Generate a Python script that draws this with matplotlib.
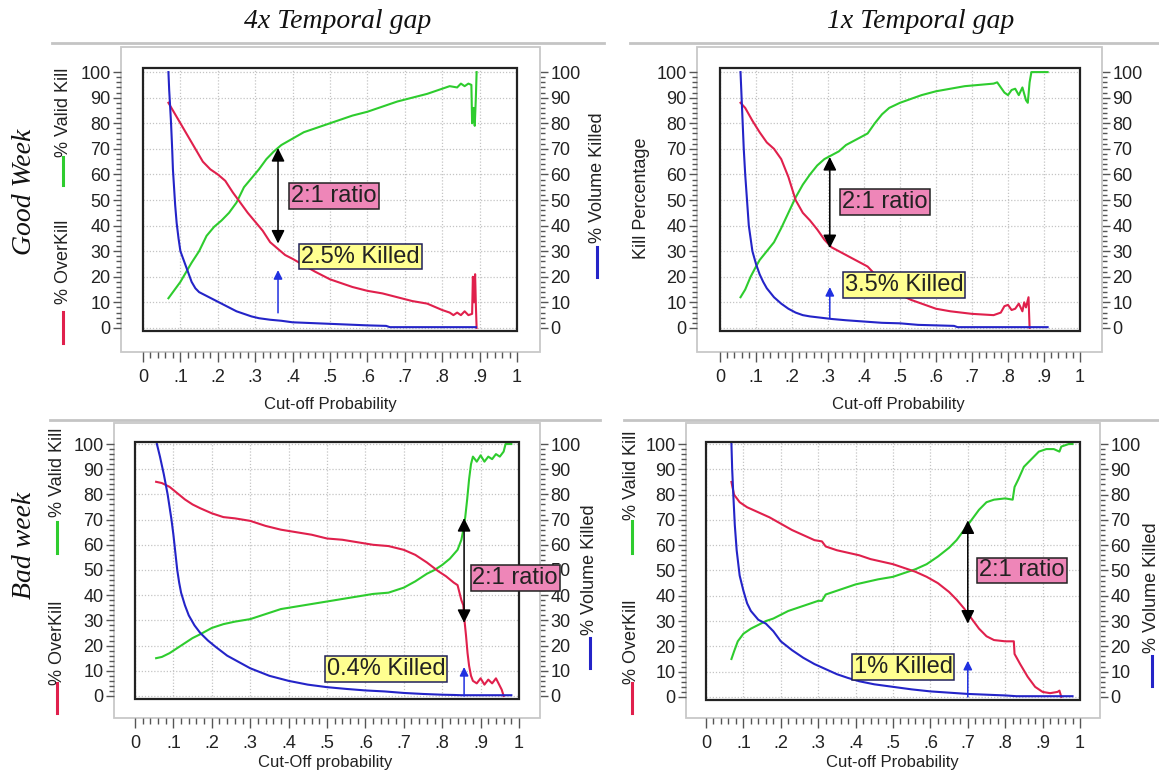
import matplotlib
matplotlib.use("Agg")
import matplotlib.pyplot as plt
from matplotlib.lines import Line2D
from matplotlib.patches import Rectangle
from matplotlib.ticker import MultipleLocator, FuncFormatter

plt.rcParams['font.family'] = ['Liberation Sans', 'DejaVu Sans']

# ---- data (cut-off probability vs %) ----
# top left: good week, 4x temporal gap
tl_valid_x = [0.068, 0.08, 0.1, 0.12, 0.13, 0.15, 0.17, 0.19, 0.21, 0.23, 0.25, 0.27, 0.29, 0.31, 0.33,
              0.35, 0.37, 0.4, 0.43, 0.46, 0.5, 0.53, 0.56, 0.6, 0.64, 0.68, 0.72, 0.76, 0.8, 0.82,
              0.84, 0.85, 0.86, 0.87, 0.878, 0.88, 0.884, 0.887, 0.89, 0.892]
tl_valid_y = [11.6, 14, 18, 23, 25.5, 30, 36, 39.5, 42, 45, 49, 55, 58.5, 62, 66,
              69, 71.5, 74, 76.5, 78, 80, 81.5, 83, 84.5, 86.5, 88.5, 90, 91.5, 93.5, 94.5,
              94, 95.5, 94.5, 95.5, 95, 80, 86, 79, 90, 100]
tl_over_x = [0.068, 0.08, 0.1, 0.12, 0.14, 0.16, 0.18, 0.2, 0.22, 0.24, 0.26, 0.28, 0.3, 0.32, 0.34,
             0.36, 0.38, 0.4, 0.43, 0.46, 0.5, 0.53, 0.56, 0.6, 0.64, 0.68, 0.72, 0.76, 0.8, 0.82,
             0.83, 0.84, 0.85, 0.86, 0.87, 0.88, 0.882, 0.885, 0.888, 0.89, 0.892]
tl_over_y = [88, 85, 80, 75, 70, 65, 62, 60, 57.5, 53, 49, 45, 41.5, 38, 33.5,
             31, 28.5, 27, 24.5, 22, 19, 17.5, 16, 14.5, 13.5, 12, 10.5, 9.5, 7, 6,
             5, 6, 5, 6.5, 5, 5.5, 20, 10, 21, 9, 0]
tl_vol_x = [0.068, 0.07, 0.072, 0.075, 0.078, 0.08, 0.083, 0.086, 0.09, 0.095, 0.1, 0.105, 0.11, 0.12,
            0.13, 0.14, 0.15, 0.17, 0.19, 0.21, 0.23, 0.25, 0.27, 0.29, 0.31, 0.34, 0.37, 0.4, 0.45,
            0.5, 0.55, 0.6, 0.65, 0.66, 0.8, 0.89]
tl_vol_y = [100, 93, 88, 80, 70, 62, 55, 48, 41, 35, 30, 28, 26, 22,
            18, 15.5, 14, 12.5, 11, 9.5, 8, 6.5, 5.5, 4.5, 3.8, 3.2, 2.8, 2.2, 1.9,
            1.6, 1.3, 1.0, 0.8, 0.3, 0.3, 0.3]

# top right: good week, 1x temporal gap
tr_valid_x = [0.057, 0.07, 0.085, 0.1, 0.11, 0.13, 0.15, 0.17, 0.19, 0.21, 0.23, 0.25, 0.27, 0.29, 0.31,
              0.33, 0.35, 0.37, 0.39, 0.41, 0.43, 0.45, 0.47, 0.5, 0.53, 0.56, 0.6, 0.64, 0.68, 0.72,
              0.76, 0.77, 0.79, 0.8, 0.81, 0.82, 0.83, 0.84, 0.85, 0.855, 0.86, 0.865, 0.91]
tr_valid_y = [12, 15, 20, 24, 26.5, 30, 33.5, 39, 45, 51, 56, 60, 63.5, 66, 67.5,
              69, 71.5, 73, 74.5, 76, 80, 83.5, 86, 88, 89.5, 91, 92.5, 93.5, 94.5, 95,
              95.5, 96, 92, 91, 93, 93.5, 91, 94, 89, 88, 96, 100, 100]
tr_over_x = [0.057, 0.07, 0.09, 0.11, 0.13, 0.15, 0.17, 0.19, 0.21, 0.23, 0.25, 0.27, 0.29, 0.31, 0.33,
             0.35, 0.37, 0.39, 0.41, 0.43, 0.45, 0.5, 0.53, 0.56, 0.6, 0.64, 0.7, 0.76, 0.78, 0.79,
             0.8, 0.81, 0.82, 0.83, 0.84, 0.845, 0.85, 0.857, 0.86]
tr_over_y = [88, 86, 81, 76.5, 72.5, 70, 66, 59, 50, 45, 42, 38.5, 34.5, 31.5, 30,
             28.5, 27, 25.5, 24, 21, 18, 13, 11, 9.5, 7.5, 6.5, 5.5, 5, 6, 8.5,
             9, 7, 7.5, 9.5, 6.5, 10, 8, 12, 0]
tr_vol_x = [0.057, 0.06, 0.063, 0.066, 0.07, 0.075, 0.08, 0.09, 0.1, 0.11, 0.12, 0.13, 0.15, 0.17,
            0.19, 0.21, 0.23, 0.25, 0.28, 0.31, 0.35, 0.4, 0.45, 0.5, 0.55, 0.6, 0.65, 0.66, 0.8, 0.91]
tr_vol_y = [100, 90, 80, 70, 60, 50, 40, 30, 25, 21, 18, 15.5, 12, 9.5,
            7.5, 6, 5, 4.5, 4, 3.5, 3, 2.5, 2, 1.8, 1.2, 1.0, 0.8, 0.3, 0.3, 0.3]

# bottom left: bad week, 4x temporal gap
bl_valid_x = [0.055, 0.07, 0.09, 0.11, 0.13, 0.15, 0.17, 0.2, 0.23, 0.26, 0.3, 0.34, 0.38, 0.42, 0.46,
              0.5, 0.54, 0.58, 0.62, 0.66, 0.7, 0.73, 0.76, 0.78, 0.8, 0.82, 0.84, 0.85, 0.855, 0.86,
              0.865, 0.87, 0.875, 0.88, 0.89, 0.9, 0.91, 0.92, 0.93, 0.94, 0.95, 0.96, 0.965, 0.98]
bl_valid_y = [15, 15.5, 17, 19, 21, 23, 24.5, 27, 28.5, 29.5, 30.5, 32.5, 34.5, 35.5, 36.5,
              37.5, 38.5, 39.5, 40.5, 41, 43, 45.5, 48.5, 50, 52, 54.5, 58, 62, 66, 71,
              78, 86, 92, 95, 93, 95.5, 93, 95, 94, 96, 95, 97, 100, 100]
bl_over_x = [0.055, 0.07, 0.09, 0.11, 0.13, 0.15, 0.17, 0.2, 0.23, 0.26, 0.3, 0.34, 0.38, 0.42, 0.46,
             0.5, 0.54, 0.58, 0.62, 0.66, 0.7, 0.73, 0.76, 0.79, 0.81, 0.83, 0.84, 0.845, 0.85, 0.855,
             0.858, 0.862, 0.866, 0.87, 0.875, 0.88, 0.89, 0.9, 0.91, 0.92, 0.93, 0.94, 0.95, 0.955, 0.96]
bl_over_y = [85, 84.5, 83, 80.5, 78, 76, 74.5, 72.5, 71, 70.5, 69.5, 67.5, 66, 65, 64,
             62.5, 62, 61, 60, 59.5, 58, 56, 53, 49.5, 47.5, 45, 44, 41, 38, 36,
             30, 24, 17, 12, 8, 6, 5, 7, 4.5, 6.5, 5, 7, 4, 2.5, 0]
bl_vol_x = [0.057, 0.065, 0.075, 0.085, 0.095, 0.1, 0.105, 0.11, 0.115, 0.12, 0.13, 0.14, 0.155, 0.17,
            0.19, 0.21, 0.24, 0.27, 0.3, 0.35, 0.4, 0.45, 0.5, 0.55, 0.6, 0.65, 0.7, 0.75, 0.8,
            0.83, 0.85, 0.98]
bl_vol_y = [100, 95, 88, 80, 70, 64, 57, 50, 45, 41, 36, 32, 28, 25,
            22, 19.5, 16, 13.5, 11, 8, 6, 4.5, 3.5, 2.8, 2.2, 1.8, 1.2, 0.8, 0.5,
            0.4, 0.3, 0.3]

# bottom right: bad week, 1x temporal gap
br_valid_x = [0.068, 0.075, 0.085, 0.1, 0.12, 0.14, 0.16, 0.18, 0.2, 0.22, 0.25, 0.28, 0.3, 0.31, 0.32,
              0.35, 0.38, 0.4, 0.43, 0.46, 0.5, 0.53, 0.56, 0.59, 0.62, 0.65, 0.67, 0.69, 0.71, 0.73,
              0.75, 0.77, 0.8, 0.82, 0.825, 0.835, 0.85, 0.87, 0.89, 0.91, 0.93, 0.945, 0.95, 0.97, 0.98]
br_valid_y = [15, 18, 22, 25, 27, 28.5, 30, 31, 32.5, 34, 35.5, 37, 38, 38, 40.5,
              42, 43.5, 44.5, 45.5, 46.5, 47.5, 49, 50.5, 52.5, 55.5, 59, 62, 66, 70, 74,
              77, 78, 78.5, 78, 83, 86, 91, 94, 97, 98, 98, 97, 99, 100, 100]
br_over_x = [0.068, 0.075, 0.09, 0.11, 0.14, 0.17, 0.2, 0.23, 0.26, 0.29, 0.31, 0.32, 0.35, 0.38, 0.41,
             0.44, 0.47, 0.5, 0.53, 0.56, 0.59, 0.62, 0.65, 0.67, 0.69, 0.71, 0.73, 0.75, 0.77, 0.8,
             0.823, 0.825, 0.84, 0.86, 0.88, 0.9, 0.92, 0.94, 0.945, 0.95]
br_over_y = [85, 80, 77, 75, 73, 71, 68.5, 66, 64, 62, 61.5, 59.5, 58, 57, 56,
             54.5, 53.5, 52.5, 51, 49.5, 47.5, 45, 41.5, 38.5, 35, 31, 27, 24, 22.5, 22,
             22, 17, 13, 8, 4, 2, 1.5, 2, 2.5, 0]
br_vol_x = [0.068, 0.07, 0.073, 0.077, 0.082, 0.09, 0.1, 0.11, 0.12, 0.14, 0.16, 0.18, 0.2, 0.23,
            0.26, 0.29, 0.32, 0.35, 0.38, 0.41, 0.45, 0.5, 0.55, 0.6, 0.65, 0.7, 0.75, 0.8, 0.83, 0.98]
br_vol_y = [100, 90, 80, 68, 58, 48, 42, 37, 34, 30.5, 29, 26, 22, 18.5,
            15.5, 13, 11, 9, 7.5, 6.2, 5, 4, 3, 2.2, 1.7, 1.2, 0.9, 0.6, 0.3, 0.3]

# annotations: arrow x, ratio arrow span, label positions
tl_note = dict(ax_x=0.361, ratio=(33, 70.3), ratio_xy=(0.511, 51.6), vol=(5.9, 22.6),
               killed='2.5% Killed', killed_xy=(0.582, 27.9))
tr_note = dict(ax_x=0.305, ratio=(31.2, 66.8), ratio_xy=(0.458, 49.2), vol=(3.9, 16),
               killed='3.5% Killed', killed_xy=(0.511, 16.8))
bl_note = dict(ax_x=0.857, ratio=(29, 70.6), ratio_xy=(0.99, 46.8), vol=(0, 11.5),
               killed='0.4% Killed', killed_xy=(0.654, 10.7))
br_note = dict(ax_x=0.70, ratio=(29, 69.8), ratio_xy=(0.845, 50), vol=(0, 14.3),
               killed='1% Killed', killed_xy=(0.527, 11.9))

GREEN = '#2ecc2e'
RED = '#e0204c'
BLUE = '#2424c8'
FRAME = '#c8c8c8'

W, H = 1159, 774


def fx(px):
    return px / W


def fy(py):
    return 1 - py / H


fig = plt.figure(figsize=(W / 100, H / 100), dpi=100)
fig.patch.set_facecolor('white')


def xfmt(v, pos):
    if abs(v) < 1e-6:
        return '0'
    if abs(v - 1) < 1e-6:
        return '1'
    return ('%.1f' % v)[1:]


def panel(box, frame, ylim, valid, over, vol, note):
    l, t, r, b = box
    fl, ft, fr, fb = frame
    # light grey outer frame
    fig.add_artist(Rectangle((fx(fl), fy(fb)), (fr - fl) / W, (fb - ft) / H,
                             transform=fig.transFigure, fill=False, ec=FRAME, lw=1.3))
    ax = fig.add_axes([fx(l), fy(b), (r - l) / W, (b - t) / H])
    ax.set_xlim(0, 1)
    ax.set_ylim(*ylim)
    ax.set_axisbelow(True)
    ax.grid(True, which='major', color='#c4c4c4', linestyle=(0, (1, 1.5)), linewidth=0.9)

    ax.plot(valid[0], valid[1], color=GREEN, lw=1.5, zorder=3)
    ax.plot(over[0], over[1], color=RED, lw=1.5, zorder=3)
    ax.plot(vol[0], vol[1], color=BLUE, lw=1.5, zorder=3)

    for s in ax.spines.values():
        s.set_visible(False)
    ax.spines['left'].set_position(('outward', (l - fl) * 0.72))
    ax.spines['bottom'].set_position(('outward', (fb - b) * 0.72))
    ax.add_patch(Rectangle((0, 0), 1, 1, transform=ax.transAxes, fill=False,
                           ec='#222222', lw=1.6, clip_on=False, zorder=6))

    ax.xaxis.set_major_locator(MultipleLocator(0.1))
    ax.xaxis.set_minor_locator(MultipleLocator(0.02))
    ax.xaxis.set_major_formatter(FuncFormatter(xfmt))
    ax.yaxis.set_major_locator(MultipleLocator(10))
    ax.yaxis.set_minor_locator(MultipleLocator(2))
    ax.tick_params(axis='x', which='major', length=7, width=1, color='#555555',
                   labelsize=13, pad=5, labelcolor='#222222')
    ax.tick_params(axis='x', which='minor', length=4, width=1, color='#555555')
    ax.tick_params(axis='y', which='major', length=6, width=1, color='#555555',
                   labelsize=13, pad=1.5, labelcolor='#222222')
    ax.tick_params(axis='y', which='minor', length=3.5, width=1, color='#555555')

    ax2 = ax.twinx()
    ax2.set_ylim(*ylim)
    for s in ax2.spines.values():
        s.set_visible(False)
    ax2.spines['right'].set_position(('outward', (fr - r) * 0.72))
    ax2.yaxis.set_major_locator(MultipleLocator(10))
    ax2.yaxis.set_minor_locator(MultipleLocator(2))
    ax2.tick_params(axis='y', which='major', length=6, width=1, color='#555555',
                    labelsize=13, pad=1.5, labelcolor='#222222')
    ax2.tick_params(axis='y', which='minor', length=3.5, width=1, color='#555555')
    # keep the plot (and its label boxes) above the right-hand scale
    ax.set_zorder(ax2.get_zorder() + 1)
    ax.patch.set_visible(False)

    # annotations
    x0 = note['ax_x']
    ax.annotate('', xy=(x0, note['ratio'][1]), xytext=(x0, note['ratio'][0]),
                arrowprops=dict(arrowstyle='<|-|>', color='black', lw=1.1,
                                mutation_scale=20, shrinkA=0, shrinkB=0), zorder=7)
    ax.annotate('', xy=(x0, note['vol'][1]), xytext=(x0, note['vol'][0]),
                arrowprops=dict(arrowstyle='-|>', color='#2030e0', lw=1.1,
                                mutation_scale=13, shrinkA=0, shrinkB=0), zorder=7)
    ax.text(note['ratio_xy'][0], note['ratio_xy'][1], '2:1 ratio', fontsize=17,
            ha='center', va='center', color='#222222', zorder=8, clip_on=False,
            bbox=dict(boxstyle='square,pad=0.08', fc='#ee86b8', ec='#222222', lw=1.1))
    ax.text(note['killed_xy'][0], note['killed_xy'][1], note['killed'], fontsize=17,
            ha='center', va='center', color='#222222', zorder=8,
            bbox=dict(boxstyle='square,pad=0.08', fc='#ffff90', ec='#20205a', lw=1.1))
    return ax


panel((143, 68, 517, 331), (121, 47, 540, 352), (-1.2, 101.6),
      (tl_valid_x, tl_valid_y), (tl_over_x, tl_over_y), (tl_vol_x, tl_vol_y), tl_note)
panel((720, 68, 1080, 331), (697, 47, 1102, 352), (-1.2, 101.6),
      (tr_valid_x, tr_valid_y), (tr_over_x, tr_over_y), (tr_vol_x, tr_vol_y), tr_note)
panel((135, 442, 519, 699), (114, 423, 540, 718), (-1.2, 100.8),
      (bl_valid_x, bl_valid_y), (bl_over_x, bl_over_y), (bl_vol_x, bl_vol_y), bl_note)
panel((706, 442, 1080, 700), (686, 423, 1100, 718), (-1.2, 100.8),
      (br_valid_x, br_valid_y), (br_over_x, br_over_y), (br_vol_x, br_vol_y), br_note)


def side_label(x, yc, text, bar=None, color=None):
    fig.text(fx(x), fy(yc), text, rotation=90, ha='center', va='center',
             fontsize=13, color='#222222')
    if bar is not None:
        fig.add_artist(Line2D([fx(x), fx(x)], [fy(bar[0]), fy(bar[1])],
                              transform=fig.transFigure, color=color, lw=2.2))


# axis labels with little colour keys
side_label(63, 112, '% Valid Kill', (157, 185), GREEN)
side_label(63, 262, '% OverKill', (312, 343), RED)
side_label(597, 178, '% Volume Killed', (247, 277), BLUE)
side_label(641, 198, 'Kill Percentage')
side_label(57, 472, '% Valid Kill', (522, 553), GREEN)
side_label(57, 643, '% OverKill', (683, 713), RED)
side_label(590, 570, '% Volume Killed', (638, 668), BLUE)
side_label(632, 475, '% Valid Kill', (521, 553), GREEN)
side_label(632, 642, '% OverKill', (683, 713), RED)
side_label(1152, 588, '% Volume Killed', (656, 686), BLUE)

# x axis titles
fig.text(fx(330), fy(404), 'Cut-off Probability', ha='center', va='center', fontsize=12, color='#222222')
fig.text(fx(898), fy(404), 'Cut-off Probability', ha='center', va='center', fontsize=12, color='#222222')
fig.text(fx(325), fy(762), 'Cut-Off probability', ha='center', va='center', fontsize=12, color='#222222')
fig.text(fx(892), fy(762), 'Cut-off Probability', ha='center', va='center', fontsize=12, color='#222222')

# column titles and row titles
serif = ['Liberation Serif', 'DejaVu Serif']
fig.text(fx(338), fy(22), '4x Temporal gap', ha='center', va='center', fontsize=20,
         family=serif, style='italic', color='#111111')
fig.text(fx(921), fy(22), '1x Temporal gap', ha='center', va='center', fontsize=20,
         family=serif, style='italic', color='#111111')
fig.text(fx(25), fy(192), 'Good Week', rotation=90, ha='center', va='center', fontsize=20,
         family=serif, style='italic', color='#111111')
fig.text(fx(25), fy(545), 'Bad week', rotation=90, ha='center', va='center', fontsize=20,
         family=serif, style='italic', color='#111111')

# grey slide rules under the headers
for x1, x2, y in [(52, 604, 43), (630, 1159, 43), (50, 600, 420), (624, 1159, 420)]:
    fig.add_artist(Line2D([fx(x1), fx(x2)], [fy(y), fy(y)], transform=fig.transFigure,
                          color='#c4c4c4', lw=2))

fig.savefig('out.png', dpi=100)
